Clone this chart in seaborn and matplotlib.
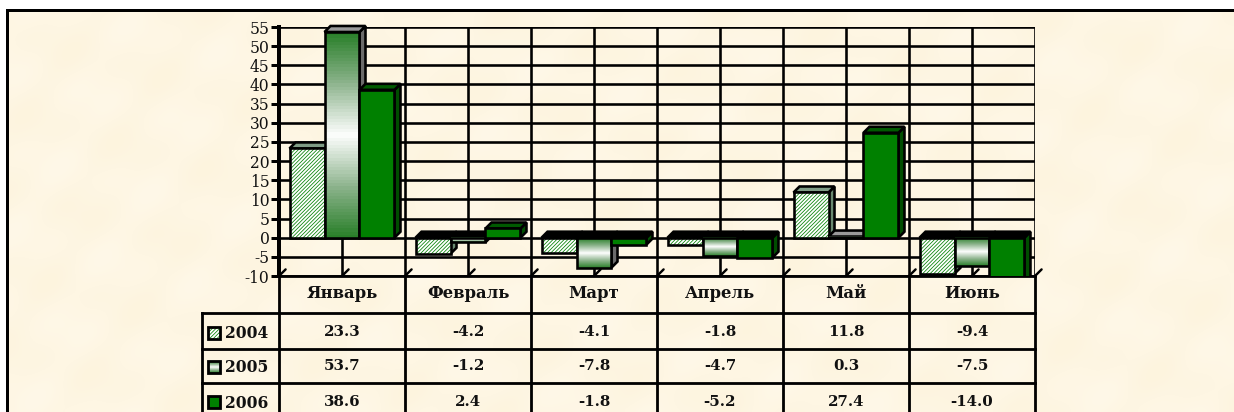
import numpy as np
import pandas as pd
import matplotlib
matplotlib.use("Agg")
import matplotlib.pyplot as plt
import seaborn as sns
from matplotlib.colors import LinearSegmentedColormap
from matplotlib.patches import Polygon, Rectangle

months = ["Январь", "Февраль", "Март", "Апрель", "Май", "Июнь"]
years = ["2004", "2005", "2006"]
values_2004 = [23.3, -4.2, -4.1, -1.8, 11.8, -9.4]
values_2005 = [53.7, -1.2, -7.8, -4.7, 0.3, -7.5]
values_2006 = [38.6, 2.4, -1.8, -5.2, 27.4, -14.0]
y_ticks = list(range(-10, 60, 5))

W, H = 1234, 412
LEFT, RIGHT, TOP, BOTTOM = 279, 1035, 27, 276
GREEN = "#008000"
SERIF = "DejaVu Serif"
INK = "#111111"

sns.set_theme(style="white")
plt.rcParams["axes.unicode_minus"] = False
plt.rcParams["hatch.linewidth"] = 0.55
PX = 72 / 100

fig = plt.figure(figsize=(W / 100, H / 100), dpi=100, facecolor="white")

# ---- page background, frame and table (pixel coordinates) ----
page = fig.add_axes([0, 0, 1, 1], zorder=0)
page.set_xlim(0, W)
page.set_ylim(H, 0)
page.axis("off")
yy, xx = np.mgrid[0:H:4, 0:W:4]
mottle = (np.sin(xx / 17 + yy / 31) + np.sin(xx / 43 - yy / 13) + np.sin(xx / 9 + yy / 11) * 0.5) / 2.5
parch = LinearSegmentedColormap.from_list("parch", ["#fdf4de", "#fff8e8"])
page.imshow(mottle, extent=(7, W, H, 10), cmap=parch, aspect="auto", interpolation="bicubic", zorder=0)
page.set_xlim(0, W)
page.set_ylim(H, 0)
page.plot([7, 7, W], [H, 10, 10], color="black", lw=3 * PX, solid_joinstyle="miter", zorder=1)

# table rules
ROWS = [276, 313, 349, 383, 419]
COL_W = (RIGHT - LEFT) / len(months)
TL = dict(color="black", lw=2.8 * PX, zorder=1, solid_capstyle="projecting")
for r in ROWS[1:-1]:
    page.plot([202, RIGHT], [r, r], **TL)
page.plot([LEFT, RIGHT], [ROWS[0], ROWS[0]], **TL)
for i in range(len(months) + 1):
    page.plot([LEFT + i * COL_W] * 2, [ROWS[0], H], **TL)
page.plot([202, 202], [313, H], **TL)

CELL = dict(family=SERIF, weight="bold", color=INK, ha="center", va="center", zorder=2)
for i, m in enumerate(months):
    page.text(LEFT + (i + 0.5) * COL_W, 294, m, fontsize=16.5 * PX, **CELL)
series = [values_2004, values_2005, values_2006]
for r, (yr, vals) in enumerate(zip(years, series)):
    cy = [332, 366, 402][r]
    page.text(225, cy + 1, yr, family=SERIF, weight="bold", color=INK, fontsize=15.5 * PX,
              ha="left", va="center", zorder=2)
    for i, v in enumerate(vals):
        page.text(LEFT + (i + 0.5) * COL_W, cy, f"{v:.1f}", fontsize=15 * PX, **CELL)

grad_cmap = LinearSegmentedColormap.from_list("grad", ["#2a802a", "#8fb58f", "#ffffff", "#8fb58f", "#2a802a"])
ramp = np.linspace(0, 1, 64).reshape(-1, 1)
HATCH = "/////////"
for r, cy in enumerate([333, 367, 402]):
    x0, x1, y0, y1 = 208, 220, cy - 6, cy + 6
    if r == 0:
        page.add_patch(Rectangle((x0, y0), x1 - x0, y1 - y0, facecolor="white", edgecolor=GREEN, hatch=HATCH, lw=0, zorder=2))
    elif r == 1:
        page.imshow(ramp, extent=(x0, x1, y1, y0), cmap=grad_cmap, aspect="auto", zorder=2)
    else:
        page.add_patch(Rectangle((x0, y0), x1 - x0, y1 - y0, facecolor=GREEN, lw=0, zorder=2))
    page.add_patch(Rectangle((x0, y0), x1 - x0, y1 - y0, fill=False, edgecolor="black", lw=2.8 * PX, zorder=3))
page.set_xlim(0, W)
page.set_ylim(H, 0)

# ---- chart ----
ax = fig.add_axes([LEFT / W, 1 - BOTTOM / H, (RIGHT - LEFT) / W, (BOTTOM - TOP) / H], zorder=1)
ax.patch.set_alpha(0)

df = pd.DataFrame({
    "Месяц": months * 3,
    "Год": sum([[y] * len(months) for y in years], []),
    "Значение": values_2004 + values_2005 + values_2006,
})
sns.barplot(data=df, x="Месяц", y="Значение", hue="Год", hue_order=years, order=months,
            palette=["white", "#e8efe8", GREEN], width=0.833, gap=0, legend=False, ax=ax,
            linewidth=0, saturation=1)

ax.set_xlim(-0.5, len(months) - 0.5)
ax.set_ylim(-10, 55)
ax.set_xlabel("")
ax.set_ylabel("")
ax.set_yticks(y_ticks)
ax.set_yticklabels([str(t) for t in y_ticks], family=SERIF, fontsize=15.5 * PX, color=INK)
edges = np.arange(-0.5, len(months), 0.5)
ax.set_xticks(edges)
ax.set_xticklabels([])
ax.tick_params(axis="x", length=0)
ax.tick_params(axis="y", length=8 * PX, width=3 * PX, color="black", pad=1, left=True)
ax.grid(True, color="black", lw=2.6 * PX, zorder=1)
ax.set_axisbelow(True)
for name, s in ax.spines.items():
    s.set_visible(name == "left")
ax.spines["left"].set_linewidth(4 * PX)
ax.spines["left"].set_color("black")

px_x = (len(months)) / (RIGHT - LEFT)      # data units per pixel, x
px_y = 65 / (BOTTOM - TOP)                 # data units per pixel, y
DX, DY = 6 * px_x, 6 * px_y

# slanted tick marks at the floor of the 3-D box
for e in edges:
    ax.plot([e, e + DX * 1.1], [-10, -10 + DY * 1.1], color="black", lw=2.4 * PX, clip_on=False, zorder=5)

top_cols = ["#7f9c85", "#9a9a9a", "#005a00"]
side_cols = ["#6a8a70", "#6b6b6b", "#004d00"]
OUT = dict(edgecolor="black", lw=2.6 * PX)
z = 3.0
for s, cont in enumerate(ax.containers):
    for i, bar in enumerate(cont):
        x0, w = bar.get_x(), bar.get_width()
        x1 = x0 + w
        v = bar.get_y() + bar.get_height()
        hi, lo = max(v, 0), min(v, 0)
        top_c = "black" if v < 0 else top_cols[s]
        side = Polygon([(x1, hi), (x1 + DX, hi + DY), (x1 + DX, lo + DY), (x1, lo)],
                       facecolor=side_cols[s], zorder=z, clip_on=False if hi > 50 else True, **OUT)
        top = Polygon([(x0, hi), (x0 + DX, hi + DY), (x1 + DX, hi + DY), (x1, hi)],
                      facecolor=top_c, zorder=z, clip_on=False, **OUT)
        ax.add_patch(side)
        ax.add_patch(top)
        bar.set_zorder(z + 0.1)
        outline = Rectangle((x0, lo), w, hi - lo, fill=False, zorder=z + 0.3, **OUT)
        if s == 0:
            bar.set_hatch(HATCH)
            bar.set_edgecolor(GREEN)
            bar.set_linewidth(0)
        elif s == 1:
            img = ax.imshow(ramp, extent=(x0, x1, lo, hi), cmap=grad_cmap, aspect="auto", zorder=z + 0.2)
            img.set_clip_path(ax.patch)
        ax.add_patch(outline)
        z += 1
ax.set_xlim(-0.5, len(months) - 0.5)
ax.set_ylim(-10, 55)

fig.savefig("out.png", dpi=100)
